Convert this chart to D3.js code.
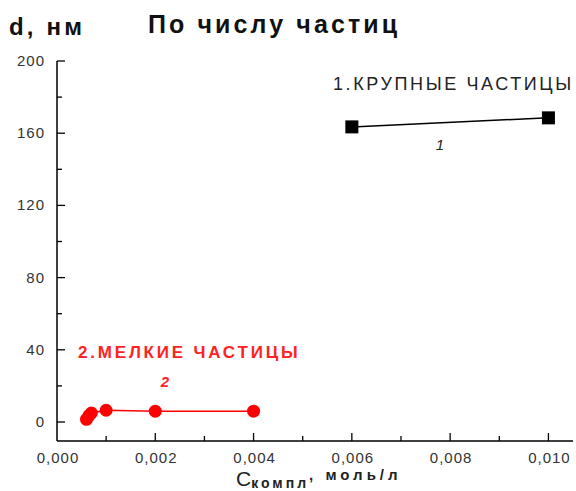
<!DOCTYPE html>
<html lang="ru">
<head>
<meta charset="UTF-8">
<title>По числу частиц</title>
<script src="https://d3js.org/d3.v7.min.js"></script>
<style>
    body { margin: 0; background: #fff; }
    svg text { font-family: "Liberation Sans", Arial, sans-serif; }
    .tick-label { font-size: 15px; fill: #333; letter-spacing: 1px; }
</style>
</head>
<body>
<div id="chart"></div>
<script>
    // series 1: large particles
    const bigX = [0.006, 0.010];
    const bigD = [163.5, 168.5];
    // series 2: small particles
    const smallX = [0.0006, 0.00065, 0.0007, 0.001, 0.002, 0.004];
    const smallD = [1.5, 3.5, 5, 6.5, 6, 6];
    const yTicks = [0, 40, 80, 120, 160, 200];
    const yMinor = [20, 60, 100, 140, 180];
    const xTicks = [0.002, 0.004, 0.006, 0.008, 0.010];
    const xMinor = [0.001, 0.003, 0.005, 0.007, 0.009];
    const xTickLabels = ["0,000", "0,002", "0,004", "0,006", "0,008", "0,010"];

    const W = 576, H = 491;
    const x = d3.scaleLinear().domain([0, 0.0105]).range([57, 573]);
    const y = d3.scaleLinear().domain([0, 200]).range([422, 61]);
    const axisY = 441;

    const svg = d3.select("#chart").append("svg")
        .attr("width", W).attr("height", H);

    // axes lines
    svg.append("line").attr("x1", x(0)).attr("x2", x(0))
        .attr("y1", y(200)).attr("y2", axisY)
        .attr("stroke", "#000").attr("stroke-width", 1.5);
    svg.append("line").attr("x1", x(0)).attr("x2", 573)
        .attr("y1", axisY).attr("y2", axisY)
        .attr("stroke", "#000").attr("stroke-width", 1.5);

    // y ticks (inward)
    svg.selectAll(".ymaj").data(yTicks).enter().append("line")
        .attr("x1", x(0)).attr("x2", x(0) + 8)
        .attr("y1", d => y(d)).attr("y2", d => y(d))
        .attr("stroke", "#000").attr("stroke-width", 1.3);
    svg.selectAll(".ymin").data(yMinor).enter().append("line")
        .attr("x1", x(0)).attr("x2", x(0) + 5)
        .attr("y1", d => y(d)).attr("y2", d => y(d))
        .attr("stroke", "#000").attr("stroke-width", 1.3);
    svg.selectAll(".ylab").data(yTicks).enter().append("text")
        .attr("class", "tick-label")
        .attr("x", x(0) - 12).attr("y", d => y(d) + 5)
        .attr("text-anchor", "end")
        .text(d => d);

    // x ticks (inward)
    svg.selectAll(".xmaj").data(xTicks).enter().append("line")
        .attr("x1", d => x(d)).attr("x2", d => x(d))
        .attr("y1", axisY).attr("y2", axisY - 8)
        .attr("stroke", "#000").attr("stroke-width", 1.3);
    svg.selectAll(".xmin").data(xMinor).enter().append("line")
        .attr("x1", d => x(d)).attr("x2", d => x(d))
        .attr("y1", axisY).attr("y2", axisY - 5)
        .attr("stroke", "#000").attr("stroke-width", 1.3);
    svg.selectAll(".xlab").data(xTickLabels).enter().append("text")
        .attr("class", "tick-label")
        .attr("x", (d, i) => x(i * 0.002) + 1).attr("y", 463)
        .attr("text-anchor", "middle")
        .text(d => d);

    // series 1
    const big = bigX.map((v, i) => ({ x: v, d: bigD[i] }));
    const line = d3.line().x(p => x(p.x)).y(p => y(p.d));
    svg.append("path").datum(big).attr("d", line)
        .attr("fill", "none").attr("stroke", "#000").attr("stroke-width", 1.5);
    svg.selectAll(".sq").data(big).enter().append("rect")
        .attr("x", p => x(p.x) - 6.5).attr("y", p => y(p.d) - 6.5)
        .attr("width", 13).attr("height", 13).attr("fill", "#000");

    // series 2
    const small = smallX.map((v, i) => ({ x: v, d: smallD[i] }));
    svg.append("path").datum(small).attr("d", line)
        .attr("fill", "none").attr("stroke", "#f00").attr("stroke-width", 1.5);
    svg.selectAll(".dot").data(small).enter().append("circle")
        .attr("cx", p => x(p.x)).attr("cy", p => y(p.d))
        .attr("r", 6.5).attr("fill", "#f00");

    // titles
    svg.append("text").attr("x", 9).attr("y", 35)
        .attr("font-size", 24).attr("font-weight", "bold").attr("fill", "#111")
        .attr("letter-spacing", 3.2)
        .text("d, нм");
    svg.append("text").attr("x", 148).attr("y", 33)
        .attr("font-size", 25).attr("font-weight", "bold").attr("fill", "#111")
        .attr("letter-spacing", 3.1)
        .text("По числу частиц");

    // series labels
    svg.append("text").attr("x", 333).attr("y", 90)
        .attr("font-size", 18).attr("fill", "#222").attr("letter-spacing", 2.6)
        .text("1.КРУПНЫЕ ЧАСТИЦЫ");
    svg.append("text").attr("x", 440).attr("y", 150)
        .attr("font-size", 15).attr("font-style", "italic").attr("fill", "#222")
        .attr("text-anchor", "middle")
        .text("1");
    svg.append("text").attr("x", 78).attr("y", 358)
        .attr("font-size", 17).attr("font-weight", "bold").attr("fill", "#f22")
        .attr("letter-spacing", 2.8)
        .text("2.МЕЛКИЕ ЧАСТИЦЫ");
    svg.append("text").attr("x", 165).attr("y", 387)
        .attr("font-size", 15).attr("font-weight", "bold").attr("font-style", "italic")
        .attr("fill", "#f22").attr("text-anchor", "middle")
        .text("2");

    // x axis title
    const xt = svg.append("text").attr("x", 236).attr("y", 486)
        .attr("fill", "#222");
    xt.append("tspan").attr("font-size", 21).text("C");
    xt.append("tspan").attr("font-size", 14).attr("dy", 2).attr("letter-spacing", 3)
        .attr("font-weight", "bold").text("компл");
    xt.append("tspan").attr("font-size", 15).attr("dy", -8).attr("letter-spacing", 4)
        .attr("font-weight", "bold").text(", моль/л");
</script>
</body>
</html>
